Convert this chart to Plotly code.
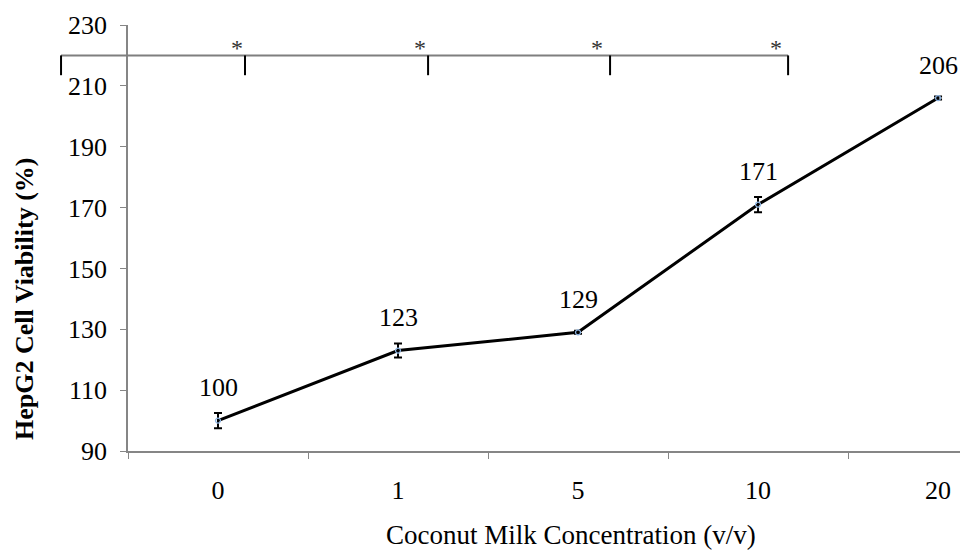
import plotly.graph_objects as go

categories = ["0", "1", "5", "10", "20"]
viability = [100, 123, 129, 171, 206]
errors = [2.5, 2.3, 0.5, 2.5, 0.5]
y_ticks = [90, 110, 130, 150, 170, 190, 210, 230]

x_title = "Coconut Milk Concentration (v/v)"
y_title = "<b>HepG2 Cell Viability (%)</b>"

# significance bracket (value level) and star level
bracket_level = 220
bracket_drop = 213.5
star_level = 222.6

Y_MIN, Y_MAX = 90, 230
X_MIN, X_MAX = -0.5, 4.122

xs = list(range(len(categories)))
FONT = "Liberation Serif, Times New Roman, serif"
FS = 26

fig = go.Figure()
fig.add_trace(go.Scatter(
    x=xs, y=viability,
    mode="lines+markers",
    line=dict(color="black", width=3),
    marker=dict(symbol="circle-open", size=5, color="#8db4e2", line=dict(width=1.2, color="#8db4e2")),
    error_y=dict(type="data", array=errors, visible=True, color="black", thickness=2, width=4),
    showlegend=False, cliponaxis=False,
))

for x, v in zip(xs, viability):
    fig.add_annotation(x=x, y=v, text=str(v), showarrow=False, yshift=33, yanchor="middle",
                       font=dict(family=FONT, size=FS, color="black"))

def px_of(xval):
    return (xval - X_MIN) / (X_MAX - X_MIN)

def py_of(yval):
    return (yval - Y_MIN) / (Y_MAX - Y_MIN)

left_end = -0.872
drops = [0.15, 1.167, 2.178, 3.167]
stars = [0.106, 1.122, 2.106, 3.1]

fig.add_shape(type="line", xref="paper", yref="paper",
              x0=px_of(left_end), x1=px_of(drops[-1]), y0=py_of(bracket_level), y1=py_of(bracket_level),
              line=dict(color="#7f7f7f", width=2))
for d in [left_end] + drops:
    fig.add_shape(type="line", xref="paper", yref="paper",
                  x0=px_of(d), x1=px_of(d), y0=py_of(bracket_level), y1=py_of(bracket_drop),
                  line=dict(color="black", width=2))
for s in stars:
    fig.add_annotation(xref="paper", yref="paper", x=px_of(s), y=py_of(star_level), text="*",
                       showarrow=False, xanchor="center", yanchor="middle",
                       font=dict(family=FONT, size=24, color="#333333"))

# axis titles (placed as in the reference, offset from the plot centre)
fig.add_annotation(xref="paper", yref="paper", x=0.5325, y=-0.197, text=x_title,
                   showarrow=False, xanchor="center", yanchor="middle",
                   font=dict(family=FONT, size=27, color="black"))
fig.add_annotation(xref="paper", yref="paper", x=-0.1238, y=0.357, text=y_title, textangle=-90,
                   showarrow=False, xanchor="center", yanchor="middle",
                   font=dict(family=FONT, size=26, color="black"))

fig.update_layout(
    width=960, height=553,
    margin=dict(l=128, r=0, t=25, b=102),
    paper_bgcolor="white", plot_bgcolor="white",
    font=dict(family=FONT, size=FS, color="black"),
    xaxis=dict(
        range=[X_MIN, X_MAX], tickmode="array", tickvals=xs, ticktext=categories,
        ticks="", showgrid=False, zeroline=False, automargin=False,
        showline=True, linecolor="#868686", linewidth=1.5,
        ticklabelstandoff=15,
        minor=dict(tickmode="array", tickvals=[-0.5, 0.5, 1.5, 2.5, 3.5], ticks="outside",
                   ticklen=6, tickcolor="#868686", tickwidth=1, showgrid=False),
    ),
    yaxis=dict(
        range=[Y_MIN, Y_MAX], tickmode="array", tickvals=y_ticks,
        ticks="outside", ticklen=6, tickcolor="#868686",
        showgrid=False, zeroline=False, automargin=False,
        showline=True, linecolor="#868686", linewidth=1.5,
        ticklabelstandoff=8,
    ),
)

fig.write_html("out.html", config={"displayModeBar": False},
               post_script="document.body.style.margin='0';")
